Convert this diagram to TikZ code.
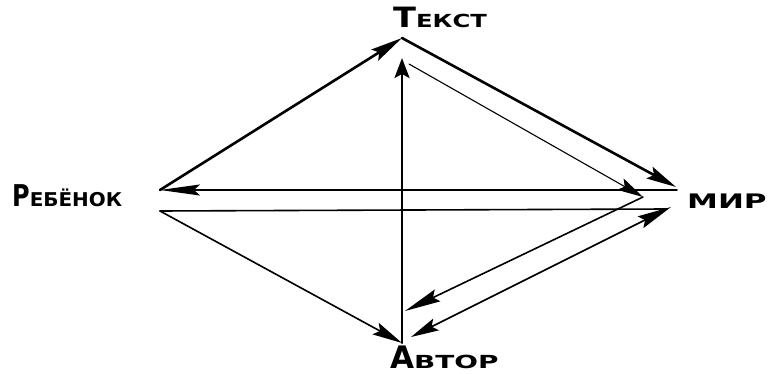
\documentclass[tikz,border=0pt]{standalone}
\usepackage{fontspec}
\setmainfont{DejaVu Sans}
\usetikzlibrary{arrows.meta}
\begin{document}
\begin{tikzpicture}[x=1pt,y=-1pt,
  line cap=round,
  lbl/.style={inner sep=0pt, anchor=base west},
  hd/.style={-{Stealth[length=#1,width=13pt,inset=5pt]}},
  hd/.default=28pt,
  thk/.style={line width=2.6pt},
  med/.style={line width=1.6pt},
  thn/.style={line width=1.1pt}]
\useasboundingbox (0,0) rectangle (769,374);
% vertices
\coordinate (T) at (402,38);
\coordinate (Ttip) at (402,58);
\coordinate (Tin) at (409,64);
\coordinate (Ru) at (160,190);
\coordinate (Rl) at (160,211);
\coordinate (Mtop) at (676,187);
\coordinate (Mh) at (677,190);
\coordinate (Mi) at (643,197);
\coordinate (Ml) at (671,207);
\coordinate (Mlh) at (667,209);
\coordinate (A) at (402,343);
\coordinate (Am) at (405,311);
\coordinate (Alow) at (411,337);
% labels
\node[lbl] (tekst) at (393,28) {\bfseries\scalebox{1.2}[1]{\fontsize{28}{28}\selectfont Т}\scalebox{1.35}[1]{\fontsize{18}{18}\selectfont ЕКСТ}};
\node[lbl] (reb) at (12,207) {\bfseries\scalebox{0.8}[1]{\fontsize{30}{30}\selectfont Р}\scalebox{1.05}[1]{\fontsize{19}{19}\selectfont ЕБЁНОК}};
\node[lbl] (mir) at (687,209) {\bfseries\scalebox{1.55}[1]{\fontsize{20}{20}\selectfont МИР}};
\node[lbl] (avtor) at (390,368) {\bfseries\scalebox{1.0}[1]{\fontsize{31}{31}\selectfont А}\scalebox{1.55}[1]{\fontsize{18}{18}\selectfont ВТОР}};
% connectors
\draw[thk, hd=32pt] (Ru) -- (T);
\draw[thk, hd=30pt] (T) -- (Mtop);
\draw[thn, hd=26pt] (Tin) -- (Mi);
\draw[thk, -{Stealth[length=20pt,width=15pt,inset=4pt]}] (A) -- (Ttip);
\draw[med, -{Stealth[length=40pt,width=11pt,inset=6pt]}] (Mh) -- (Ru);
\draw[med] (Rl) -- (Mlh);
\draw[med, hd=30pt] (Rl) -- (A);
\draw[med, hd=36pt] (Mi) -- (Am);
\draw[med, {Stealth[length=28pt,width=13pt,inset=5pt]}-{Stealth[length=34pt,width=13pt,inset=5pt]}] (Alow) -- (Ml);
\end{tikzpicture}
\end{document}
